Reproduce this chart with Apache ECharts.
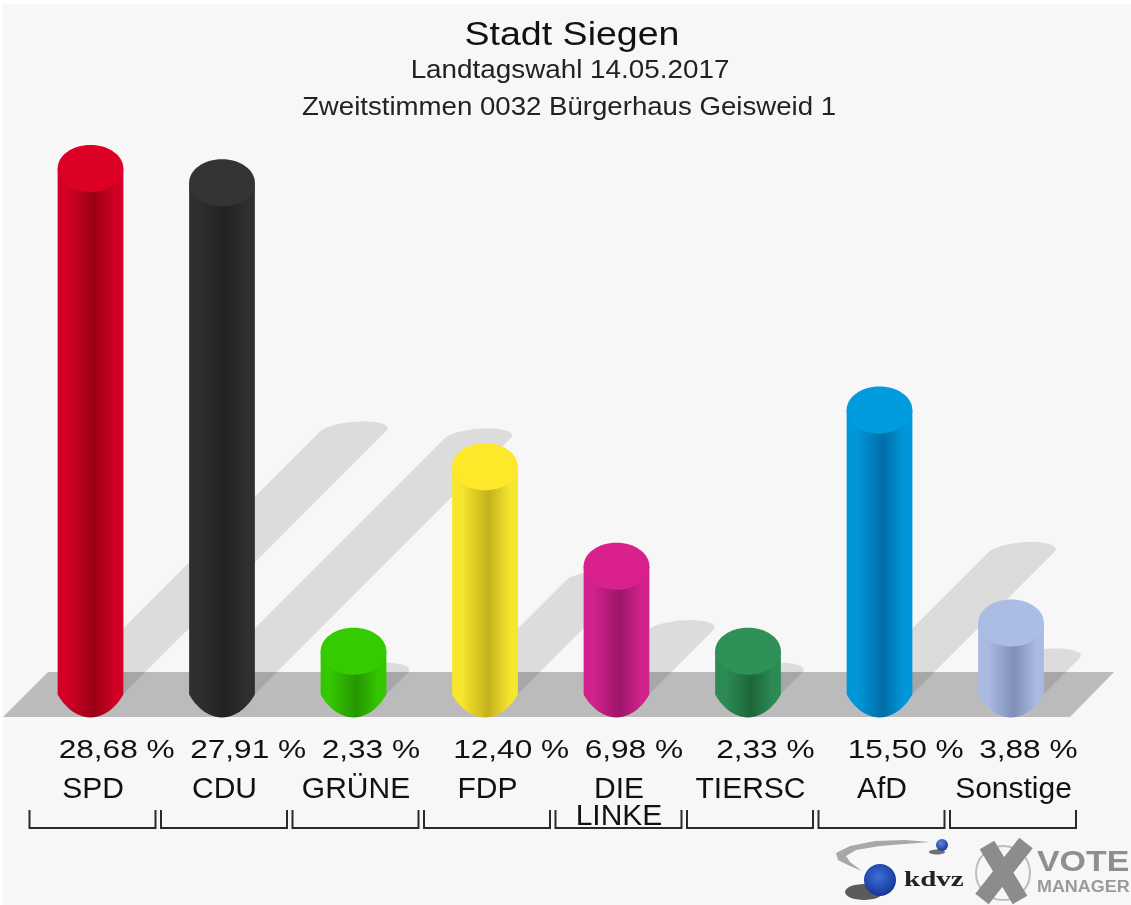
<!DOCTYPE html>
<html>
<head>
<meta charset="utf-8">
<style>html,body{margin:0;padding:0;background:#fff}#c{width:1131px;height:905px;filter:blur(0.6px)}</style>
<script src="https://cdn.jsdelivr.net/npm/echarts@6/dist/echarts.min.js"></script>
</head>
<body>
<div id="c"></div>
<script>
var categories = ['SPD', 'CDU', 'GRÜNE', 'FDP', 'DIE\nLINKE', 'TIERSC', 'AfD', 'Sonstige'];
var values = [28.68, 27.91, 2.33, 12.40, 6.98, 2.33, 15.50, 3.88];
var edgeColors = ['#d20027', '#2f2f2f', '#33c700', '#f6e62c', '#d2218c', '#2c8b55', '#0097d9', '#a9b9e2'];
var midColors = ['#9a0015', '#222222', '#269600', '#c4b01c', '#9c1568', '#1d6639', '#006ea8', '#7f8fb8'];
var topColors = ['#dc0024', '#343434', '#34cc00', '#fde82a', '#d9208c', '#2f9058', '#009cdd', '#abbce5'];
var titleText = 'Stadt Siegen';
var subtitleText = 'Landtagswahl 14.05.2017';
var detailText = 'Zweitstimmen 0032 Bürgerhaus Geisweid 1';

var FONT = '"Liberation Sans", Arial, sans-serif';
var RY = 23.5;

// Underside of a cylinder: slightly pointed, as in the reference.
function baseArc(cx, cy, rx, ry, n) {
  var pts = [];
  for (var k = 0; k <= n; k++) {
    var t = Math.PI * k / n;
    pts.push([cx + rx * Math.cos(t), cy + ry * Math.pow(Math.sin(t), 1.7)]);
  }
  return pts;
}
// End cap of a cast shadow: flattened ellipse, leaning to the right.
function shadowCap(cx, cy, rx, ry, n) {
  var pts = [];
  for (var k = 0; k <= n; k++) {
    var t = Math.PI + Math.PI * k / n;
    pts.push([cx + rx * Math.cos(t) - 10 * Math.sin(t), cy + ry * Math.sin(t)]);
  }
  return pts;
}
function pct(v) { return v.toFixed(2).replace('.', ',') + ' %'; }

var chart = echarts.init(document.getElementById('c'));
chart.setOption({
  animation: false,
  backgroundColor: 'transparent',
  grid: {left: 24.75, width: 1052, top: 144.4, height: 549.6},
  xAxis: {
    type: 'category', data: categories,
    axisLine: {show: false}, axisTick: {show: false},
    axisLabel: {
      interval: 0, margin: 82, fontFamily: FONT, fontSize: 30, lineHeight: 27,
      color: '#111', padding: [0, 0, 0, 5]
    }
  },
  yAxis: {type: 'value', min: 0, max: 30, show: false, splitLine: {show: false}},
  graphic: {
    elements: [
      {type: 'rect', z: 0, shape: {x: 3, y: 4, width: 1128, height: 901}, style: {fill: '#f7f7f7'}},
      {type: 'text', z: 10, x: 572, y: 36, scaleX: 1.155,
        style: {text: titleText, font: '32.5px ' + FONT, fill: '#111', textAlign: 'center', textVerticalAlign: 'middle'}},
      {type: 'text', z: 10, x: 570, y: 71, scaleX: 1.05,
        style: {text: subtitleText, font: '26.5px ' + FONT, fill: '#222', textAlign: 'center', textVerticalAlign: 'middle'}},
      {type: 'text', z: 10, x: 569, y: 108, scaleX: 1.05,
        style: {text: detailText, font: '26.3px ' + FONT, fill: '#222', textAlign: 'center', textVerticalAlign: 'middle'}},
      // logo
      {type: 'polygon', z: 5, shape: {points: [[930,842],[905,840],[875,841],[850,846],[836,853],[838,860],[850,866],[862,871],[850,862],[846,856],[856,850],[880,846],[905,844]]},
        style: {fill: '#a8a8a8'}},
      {type: 'ellipse', z: 5, shape: {cx: 937, cy: 852, rx: 8, ry: 2.5}, style: {fill: '#444', opacity: 0.75}},
      {type: 'circle', z: 5, shape: {cx: 942, cy: 845, r: 6},
        style: {fill: new echarts.graphic.RadialGradient(0.4, 0.35, 0.7, [{offset: 0, color: '#5f86d8'}, {offset: 1, color: '#12359a'}])}},
      {type: 'ellipse', z: 5, shape: {cx: 864, cy: 892, rx: 19, ry: 8}, style: {fill: '#333', opacity: 0.8}},
      {type: 'circle', z: 5, shape: {cx: 880, cy: 880, r: 16},
        style: {fill: new echarts.graphic.RadialGradient(0.45, 0.4, 0.7, [{offset: 0, color: '#3f70d8'}, {offset: 1, color: '#0e2c90'}])}},
      {type: 'text', z: 5, x: 904, y: 881, scaleX: 1.45,
        style: {text: 'kdvz', font: 'bold 20px "Liberation Serif", serif', fill: '#222', textVerticalAlign: 'middle'}},
      {type: 'circle', z: 5, shape: {cx: 1003, cy: 873, r: 27}, style: {fill: 'none', stroke: '#bdbdbd', lineWidth: 2}},
      {type: 'line', z: 5, shape: {x1: 987, y1: 845, x2: 1020, y2: 900}, style: {stroke: '#8c8c8c', lineWidth: 17}},
      {type: 'line', z: 5, shape: {x1: 1026, y1: 843, x2: 982, y2: 899}, style: {stroke: '#8c8c8c', lineWidth: 17}},
      {type: 'text', z: 5, x: 1037, y: 863, scaleX: 1.13,
        style: {text: 'VOTE', font: 'bold 30px ' + FONT, fill: '#8f8f8f', textVerticalAlign: 'middle'}},
      {type: 'text', z: 5, x: 1037, y: 888, scaleX: 1.12,
        style: {text: 'MANAGER', font: 'bold 16px ' + FONT, fill: '#9a9a9a', textVerticalAlign: 'middle'}}
    ]
  },
  series: [
    { // floor
      type: 'custom', z: 1, silent: true, data: [0],
      renderItem: function (params, api) {
        var a = api.coord([0, 0]), b = api.coord([7, 0]);
        var y0 = a[1];
        var lo = y0 + 23, hi = y0 - 22;
        return {type: 'polygon', shape: {points: [
          [a[0] - 87.5, lo], [a[0] - 42.5, hi], [b[0] + 103, hi], [b[0] + 59, lo]
        ]}, style: {fill: '#bbbbbb'}};
      }
    },
    { // cast shadows
      type: 'custom', z: 2, silent: true,
      data: values.map(function (v, i) { return [i, v]; }),
      encode: {x: 0, y: 1},
      renderItem: function (params, api) {
        var p0 = api.coord([api.value(0), 0]);
        var p1 = api.coord([api.value(0), api.value(1)]);
        var r = api.size([1, 0])[0] * 0.25;
        var h = (p0[1] - p1[1]) / 2;
        var cx = p0[0] + h, cy = p0[1] - h;
        var pts = [[p0[0] - r, p0[1]]].concat(
          shadowCap(cx, cy, r, 10, 24),
          [[p0[0] + r, p0[1]]]
        );
        return {type: 'polygon', shape: {points: pts}, style: {fill: 'rgba(0,0,0,0.105)'}};
      }
    },
    { // cylinders
      type: 'custom', z: 3, silent: true,
      data: values.map(function (v, i) { return [i, v]; }),
      encode: {x: 0, y: 1},
      renderItem: function (params, api) {
        var i = params.dataIndex;
        var p0 = api.coord([api.value(0), 0]);
        var p1 = api.coord([api.value(0), api.value(1)]);
        var r = api.size([1, 0])[0] * 0.25;
        var body = [[p0[0] - r, p1[1]], [p0[0] + r, p1[1]]].concat(
          baseArc(p0[0], p0[1], r, RY, 32)
        );
        var e = edgeColors[i], m = midColors[i];
        return {type: 'group', children: [
          {type: 'polygon', shape: {points: body}, style: {
            fill: new echarts.graphic.LinearGradient(0, 0, 1, 0, [
              {offset: 0, color: e}, {offset: 0.15, color: e}, {offset: 0.55, color: m},
              {offset: 0.88, color: e}, {offset: 1, color: e}
            ])}},
          {type: 'ellipse', shape: {cx: p1[0], cy: p1[1], rx: r, ry: RY}, style: {fill: topColors[i]}}
        ]};
      }
    },
    { // percentage labels
      type: 'custom', z: 4, silent: true,
      data: values.map(function (v, i) { return [i, v]; }),
      encode: {x: 0},
      renderItem: function (params, api) {
        var p0 = api.coord([api.value(0), 0]);
        var r = api.size([1, 0])[0] * 0.25;
        return {type: 'text', x: p0[0] - r + 1, y: p0[1] + 57, scaleX: 1.24,
          style: {text: pct(api.value(1)), font: '25.5px ' + FONT, fill: '#111',
            textAlign: 'left', textVerticalAlign: 'middle'}};
      }
    },
    { // brackets
      type: 'custom', z: 4, silent: true,
      data: categories.map(function (c, i) { return [i]; }),
      encode: {x: 0},
      renderItem: function (params, api) {
        var p0 = api.coord([api.value(0), 0]);
        var cx = p0[0] + 2, half = 63, y = p0[1] + 134;
        return {type: 'polyline', shape: {points: [
          [cx - half, y - 18], [cx - half, y], [cx + half, y], [cx + half, y - 18]
        ]}, style: {fill: 'none', stroke: '#2a2a2a', lineWidth: 2}};
      }
    }
  ]
});
</script>
</body>
</html>
